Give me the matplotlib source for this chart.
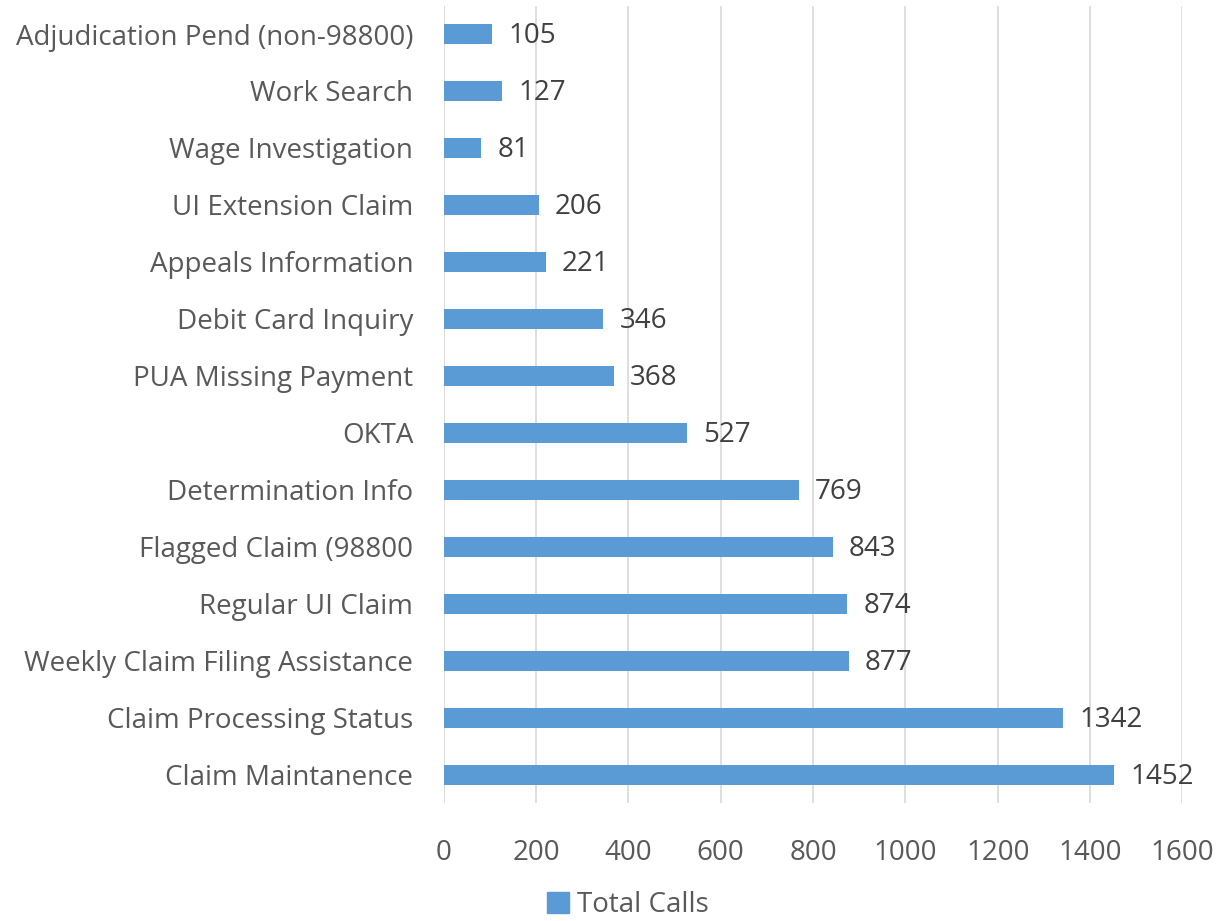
import matplotlib
matplotlib.use("Agg")
import matplotlib.pyplot as plt
from matplotlib.patches import Patch

categories = [
    "Claim Maintanence",
    "Claim Processing Status",
    "Weekly Claim Filing Assistance",
    "Regular UI Claim",
    "Flagged Claim (98800",
    "Determination Info",
    "OKTA",
    "PUA Missing Payment",
    "Debit Card Inquiry",
    "Appeals Information",
    "UI Extension Claim",
    "Wage Investigation",
    "Work Search",
    "Adjudication Pend (non-98800)",
]
total_calls = [1452, 1342, 877, 874, 843, 769, 527, 368, 346, 221, 206, 81, 127, 105]
x_ticks = [0, 200, 400, 600, 800, 1000, 1200, 1400, 1600]

bar_color = "#5B9BD5"
text_color = "#595959"
plt.rcParams["font.family"] = ["Open Sans", "DejaVu Sans"]

fig = plt.figure(figsize=(12.19, 9.21), dpi=100)
ax = fig.add_axes([0.364, 0.128, 0.606, 0.866])

y = list(range(len(categories)))
ax.barh(y, total_calls, height=0.35, color=bar_color, zorder=2)
for yi, v in zip(y, total_calls):
    ax.text(v + 35, yi - 0.04, str(v), va="center", ha="left",
            fontsize=20, color="#404040")

ax.set_yticks(y)
ax.set_yticklabels(categories, fontsize=20, color=text_color)
ax.set_xticks(x_ticks)
ax.set_xticklabels([str(t) for t in x_ticks], fontsize=20, color=text_color)
ax.set_xlim(0, 1600)
ax.set_ylim(-0.5, len(categories) - 0.5)
ax.grid(axis="x", color="#D9D9D9", linewidth=1.2, zorder=0)
ax.tick_params(axis="both", length=0)
ax.tick_params(axis="x", pad=26)
ax.tick_params(axis="y", pad=22)
for s in ax.spines.values():
    s.set_visible(False)
ax.axvline(0, color="#D9D9D9", linewidth=1.2, zorder=1)

fig.legend(handles=[Patch(color=bar_color, label="Total Calls")],
           loc="lower center", bbox_to_anchor=(0.515, -0.025), frameon=False,
           fontsize=20, handlelength=0.8, handleheight=0.8, handletextpad=0.3,
           labelcolor=text_color)

fig.savefig("out.png", dpi=100)
